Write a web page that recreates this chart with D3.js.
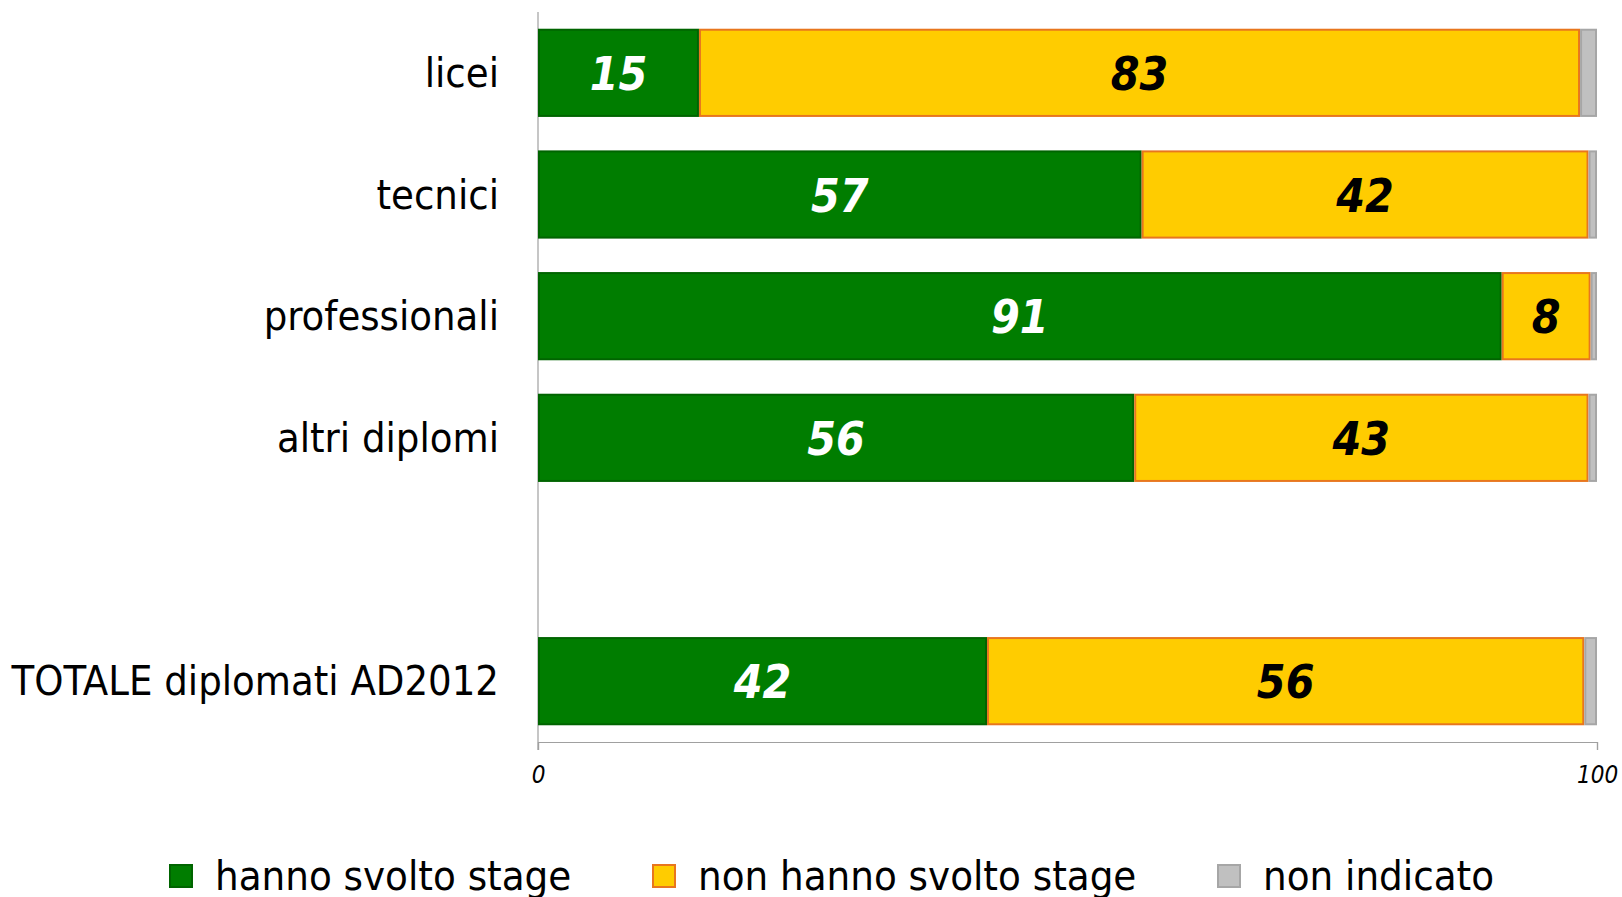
<!DOCTYPE html>
<html>
<head>
<meta charset="utf-8">
<script src="https://cdn.jsdelivr.net/npm/d3@7"></script>
<style>
  html, body { margin: 0; padding: 0; background: #fff; }
  svg { display: block; }
  text { font-family: "DejaVu Sans Condensed", "DejaVu Sans", sans-serif; }
</style>
</head>
<body>
<svg id="chart" width="1622" height="897"></svg>
<script>
const categories = ["licei", "tecnici", "professionali", "altri diplomi", "", "TOTALE diplomati AD2012"];
const seriesNames = ["hanno svolto stage", "non hanno svolto stage", "non indicato"];
const stageDone = [15.2, 57.0, 91.0, 56.3, null, 42.4];
const stageNotDone = [83.2, 42.2, 8.4, 42.9, null, 56.4];
const notIndicated = [1.6, 0.8, 0.6, 0.8, null, 1.2];
const xTicks = [0, 100];

const fills = ["#007d00", "#ffcc00", "#c0c0c0"];
const strokes = ["#006400", "#e8761e", "#a6a6a6"];
const labelColors = ["#ffffff", "#000000", null];

const svg = d3.select("#chart");
const x = d3.scaleLinear().domain([0, 100]).range([538, 1597]);
const y = d3.scaleBand().domain(d3.range(categories.length)).range([12, 742])
  .paddingInner(0.275).paddingOuter(0.1375);

const rows = categories.map((c, i) => ({cat: c, i, vals: [stageDone[i], stageNotDone[i], notIndicated[i]]}))
  .filter(r => r.vals[0] !== null);

// stacked segments
const segs = [];
rows.forEach(r => {
  let acc = 0;
  r.vals.forEach((v, k) => {
    segs.push({i: r.i, k, x0: acc, x1: acc + v, v});
    acc += v;
  });
});

// axes lines
svg.append("line").attr("x1", x(0)).attr("x2", x(0)).attr("y1", 12).attr("y2", y.range()[1] + 8)
  .attr("stroke", "#a0a0a0").attr("stroke-width", 1.2);
const xAxisG = svg.append("g").attr("transform", `translate(0,${y.range()[1]})`)
  .call(d3.axisBottom(x).tickValues(xTicks).tickSize(8).tickFormat(d3.format("d")));
xAxisG.select(".domain").attr("stroke", "#a0a0a0").attr("stroke-width", 1.2);
xAxisG.selectAll(".tick line").attr("stroke", "#a0a0a0").attr("stroke-width", 1.2);
xAxisG.selectAll(".tick text").attr("font-size", 24).attr("font-style", "italic")
  .attr("fill", "#000").attr("y", 16).attr("dy", "1.05em")
  .style("font-family", "'DejaVu Sans Condensed', 'DejaVu Sans', sans-serif");

svg.append("g").selectAll("rect").data(segs).join("rect")
  .attr("x", d => x(d.x0) + 1).attr("width", d => Math.max(0, x(d.x1) - x(d.x0) - 2))
  .attr("y", d => y(d.i) + 1).attr("height", y.bandwidth() - 2)
  .attr("fill", d => fills[d.k]).attr("stroke", d => strokes[d.k]).attr("stroke-width", 2);

// value labels
svg.append("g").selectAll("text").data(segs.filter(d => labelColors[d.k])).join("text")
  .attr("x", d => (x(d.x0) + x(d.x1)) / 2)
  .attr("y", d => y(d.i) + y.bandwidth() / 2 + 1)
  .attr("text-anchor", "middle").attr("dominant-baseline", "central")
  .attr("font-size", 46).attr("font-weight", "bold").attr("font-style", "italic")
  .attr("fill", d => labelColors[d.k])
  .text(d => Math.round(d.v));

// category labels
svg.append("g").selectAll("text").data(rows).join("text")
  .attr("x", 499).attr("y", d => y(d.i) + y.bandwidth() / 2)
  .attr("text-anchor", "end").attr("dominant-baseline", "central")
  .attr("font-size", 41.3).attr("fill", "#000")
  .text(d => d.cat);

// legend
const legendX = [169, 652, 1217];
const lg = svg.append("g").selectAll("g").data(seriesNames).join("g")
  .attr("transform", (d, k) => `translate(${legendX[k]},864)`);
lg.append("rect").attr("x", 1).attr("y", 1).attr("width", 22).attr("height", 22)
  .attr("fill", (d, k) => fills[k]).attr("stroke", (d, k) => strokes[k]).attr("stroke-width", 2);
lg.append("text").attr("x", 46).attr("y", 11).attr("dominant-baseline", "central")
  .attr("font-size", 41.5).attr("fill", "#000").text(d => d);
</script>
</body>
</html>
